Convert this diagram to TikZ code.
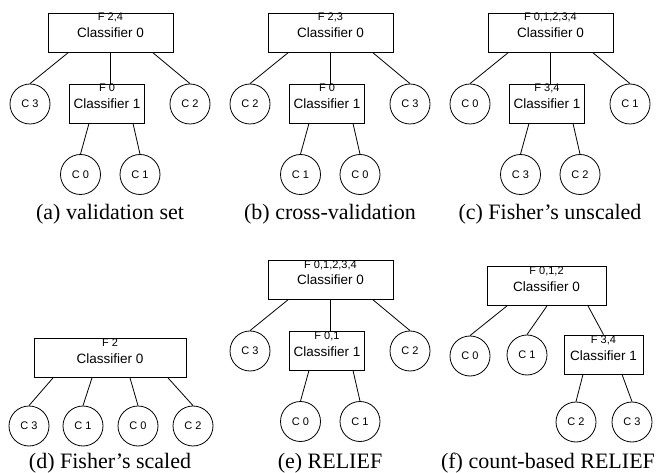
\documentclass[tikz,border=0pt]{standalone}
\usepackage{fontspec}
\setmainfont{Liberation Serif}
\setsansfont{Liberation Sans}
\newcommand{\featset}[1]{{\fontsize{11}{12}\selectfont F #1}}

\begin{document}
\begin{tikzpicture}[x=1pt, y=-1pt, line width=0.8pt, every node/.style={font=\sffamily}]
    \tikzstyle{classifier} = [rectangle, draw, inner xsep=0pt, inner ysep=0.5pt, align=center, text height=24.5pt, text depth=13.5pt, font=\sffamily\fontsize{13.5}{16}\selectfont]
    \tikzstyle{leaf} = [circle, draw, inner sep=0pt, minimum size=40pt, font=\sffamily\fontsize{11}{13}\selectfont]
    \tikzstyle{caption} = [anchor=base, font=\rmfamily\fontsize{22}{26}\selectfont]

    \useasboundingbox (0,0) rectangle (659,473);

    % (a) validation set
    \node[classifier, minimum width=125pt] (a0) at (110.5,32.5) {\featset{2,4}\\[1pt]Classifier 0};
    \node[classifier, minimum width=75pt] (a1) at (107,103.5) {\featset{0}\\[1pt]Classifier 1};
    \node[leaf] (ac3) at (30,104) {C 3};
    \node[leaf] (ac2) at (190,104) {C 2};
    \node[leaf] (ac0) at (80.5,174.5) {C 0};
    \node[leaf] (ac1) at (140,174.5) {C 1};
    \node[caption] (acap) at (110,220) {(a) validation set};
    \draw ([xshift=-42pt]a0.south) -- (ac3.north);
    \draw (a0.south) -- (a0.south |- a1.north);
    \draw ([xshift=42pt]a0.south) -- (ac2.north);
    \draw ([xshift=-18pt]a1.south) -- (ac0.north);
    \draw ([xshift=26pt]a1.south) -- (ac1.north);

    % (b) cross-validation
    \begin{scope}[shift={(220,0)}]
    \node[classifier, minimum width=125pt] (b0) at (110.5,32.5) {\featset{2,3}\\[1pt]Classifier 0};
    \node[classifier, minimum width=75pt] (b1) at (107,103.5) {\featset{0}\\[1pt]Classifier 1};
    \node[leaf] (bc2) at (30,104) {C 2};
    \node[leaf] (bc3) at (190,104) {C 3};
    \node[leaf] (bc1) at (80.5,174.5) {C 1};
    \node[leaf] (bc0) at (140,174.5) {C 0};
    \node[caption] (bcap) at (110,220) {(b) cross-validation};
    \draw ([xshift=-42pt]b0.south) -- (bc2.north);
    \draw (b0.south) -- (b0.south |- b1.north);
    \draw ([xshift=42pt]b0.south) -- (bc3.north);
    \draw ([xshift=-18pt]b1.south) -- (bc1.north);
    \draw ([xshift=26pt]b1.south) -- (bc0.north);
    \end{scope}

    % (c) Fisher's unscaled
    \begin{scope}[shift={(440,0)}]
    \node[classifier, minimum width=125pt] (c0) at (110.5,32.5) {\featset{0,1,2,3,4}\\[1pt]Classifier 0};
    \node[classifier, minimum width=75pt] (c1) at (107,103.5) {\featset{3,4}\\[1pt]Classifier 1};
    \node[leaf] (cc0) at (30,104) {C 0};
    \node[leaf] (cc1) at (190,104) {C 1};
    \node[leaf] (cc3) at (80.5,174.5) {C 3};
    \node[leaf] (cc2) at (140,174.5) {C 2};
    \node[caption] (ccap) at (110,220) {(c) Fisher's unscaled};
    \draw ([xshift=-42pt]c0.south) -- (cc0.north);
    \draw (c0.south) -- (c0.south |- c1.north);
    \draw ([xshift=42pt]c0.south) -- (cc1.north);
    \draw ([xshift=-18pt]c1.south) -- (cc3.north);
    \draw ([xshift=26pt]c1.south) -- (cc2.north);
    \end{scope}

    % (d) Fisher's scaled
    \node[classifier, minimum width=152pt] (d0) at (110,358) {\featset{2}\\[1pt]Classifier 0};
    \node[leaf] (dc3) at (29,426) {C 3};
    \node[leaf] (dc1) at (83,426) {C 1};
    \node[leaf] (dc0) at (138,426) {C 0};
    \node[leaf] (dc2) at (193,426) {C 2};
    \node[caption] (dcap) at (110,468) {(d) Fisher's scaled};
    \draw ([xshift=-57pt]d0.south) -- (dc3.north);
    \draw ([xshift=-18pt]d0.south) -- (dc1.north);
    \draw ([xshift=20pt]d0.south) -- (dc0.north);
    \draw ([xshift=58pt]d0.south) -- (dc2.north);

    % (e) RELIEF
    \begin{scope}[shift={(220,247)}]
    \node[classifier, minimum width=125pt] (e0) at (110.5,32.5) {\featset{0,1,2,3,4}\\[1pt]Classifier 0};
    \node[classifier, minimum width=75pt] (e1) at (107,103.5) {\featset{0,1}\\[1pt]Classifier 1};
    \node[leaf] (ec3) at (30,104) {C 3};
    \node[leaf] (ec2) at (190,104) {C 2};
    \node[leaf] (ec0) at (80.5,174.5) {C 0};
    \node[leaf] (ec1) at (140,174.5) {C 1};
    \node[caption] (ecap) at (110,221) {(e) RELIEF};
    \draw ([xshift=-42pt]e0.south) -- (ec3.north);
    \draw (e0.south) -- (e0.south |- e1.north);
    \draw ([xshift=42pt]e0.south) -- (ec2.north);
    \draw ([xshift=-18pt]e1.south) -- (ec0.north);
    \draw ([xshift=26pt]e1.south) -- (ec1.north);
    \end{scope}

    % (f) count-based RELIEF
    \node[classifier, minimum width=119pt] (f0) at (546.5,286) {\featset{0,1,2}\\[1pt]Classifier 0};
    \node[classifier, minimum width=79pt] (f1) at (603.5,354.5) {\featset{3,4}\\[1pt]Classifier 1};
    \node[leaf] (fc0) at (470,356) {C 0};
    \node[leaf] (fc1) at (527,355) {C 1};
    \node[leaf] (fc2) at (576,422) {C 2};
    \node[leaf] (fc3) at (632,422) {C 3};
    \node[caption] (fcap) at (548,468) {(f) count-based RELIEF};
    \draw ([xshift=-39.5pt]f0.south) -- (fc0.north);
    \draw ([xshift=0.5pt]f0.south) -- (fc1.north);
    \draw ([xshift=41.5pt]f0.south) -- (f1.north);
    \draw ([xshift=-20.5pt]f1.south) -- (fc2.north);
    \draw ([xshift=18.5pt]f1.south) -- (fc3.north);
\end{tikzpicture}
\end{document}
